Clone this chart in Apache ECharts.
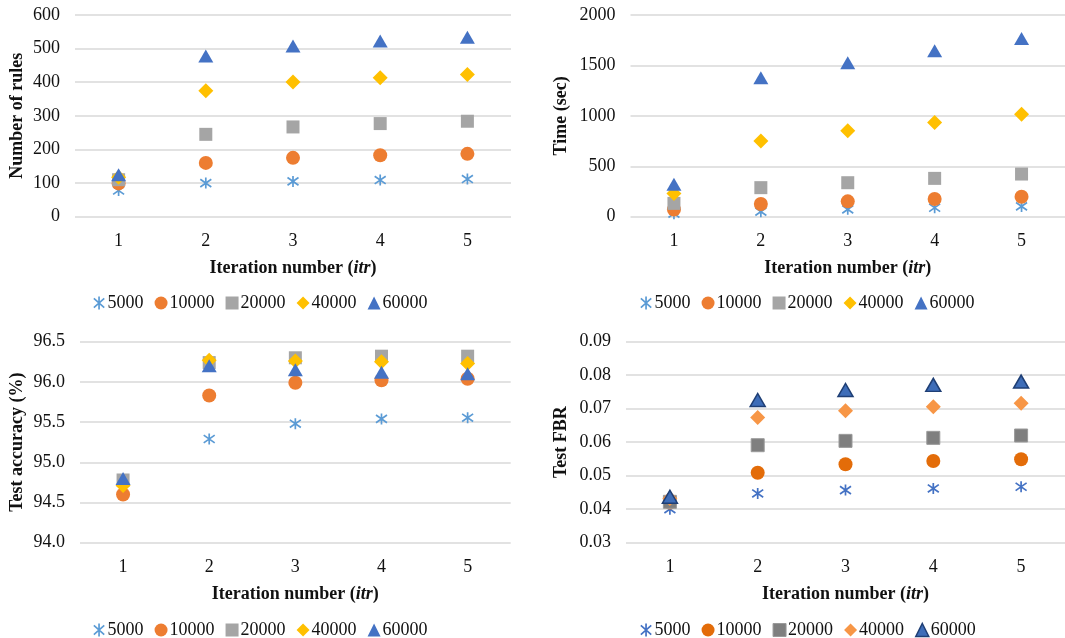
<!DOCTYPE html>
<html><head><meta charset="utf-8">
<script src="https://cdn.jsdelivr.net/npm/echarts@6/dist/echarts.min.js"></script>
<style>html,body{margin:0;padding:0;background:#fff}#c{width:1065px;height:638px}</style>
</head><body><div id="c"></div>
<script>
const categories = ['1','2','3','4','5'];
const seriesNames = ['5000','10000','20000','40000','60000'];

// Panel A: Number of rules
const rules5000  = [78, 100, 105, 109, 112];
const rules10000 = [99, 160, 175, 183, 187];
const rules20000 = [110, 245, 267, 277, 284];
const rules40000 = [117, 375, 401, 413, 423];
const rules60000 = [125, 478, 508, 523, 534];

// Panel B: Time (sec)
const time5000  = [30, 50, 73, 89, 102];
const time10000 = [72, 126, 152, 175, 198];
const time20000 = [132, 288, 337, 380, 423];
const time40000 = [231, 750, 853, 935, 1015];
const time60000 = [321, 1378, 1527, 1646, 1768];

// Panel C: Test accuracy (%)
const acc5000  = [94.66, 95.29, 95.48, 95.54, 95.555];
const acc10000 = [94.60, 95.83, 95.99, 96.02, 96.04];
const acc20000 = [94.78, 96.24, 96.30, 96.32, 96.32];
const acc40000 = [94.71, 96.27, 96.26, 96.25, 96.23];
const acc60000 = [94.80, 96.20, 96.15, 96.12, 96.10];

// Panel D: Test FBR
const fbr5000  = [0.0400, 0.0447, 0.0457, 0.0462, 0.0467];
const fbr10000 = [0.0420, 0.0509, 0.0534, 0.0544, 0.0549];
const fbr20000 = [0.0422, 0.0591, 0.0604, 0.0613, 0.0620];
const fbr40000 = [0.0432, 0.0674, 0.0694, 0.0706, 0.0716];
const fbr60000 = [0.0437, 0.0726, 0.0756, 0.0771, 0.0781];

const FONT = 'Liberation Serif';
const STAR = 'path://M1 1.5 L9 8.5 M9 1.5 L1 8.5 M5 0 L5 10';
const symbols = [STAR, 'circle', 'rect', 'diamond', 'triangle'];
const sizes = [11, 14, 13, 15, [15, 13]];

const palA = [
  {c:'#5B9BD5', b:'#5B9BD5'},
  {c:'#ED7D31', b:'#ED7D31'},
  {c:'#A5A5A5', b:'#A5A5A5'},
  {c:'#FFC000', b:'#FFC000'},
  {c:'#4472C4', b:'#4472C4'}
];
const palD = [
  {c:'#4472C4', b:'#4472C4'},
  {c:'#E36C09', b:'#E36C09'},
  {c:'#7F7F7F', b:'#9A9A9A'},
  {c:'#F79646', b:'#F79646'},
  {c:'#3E6DB8', b:'#1F3F75'}
];

const panels = [
  {data:[rules5000,rules10000,rules20000,rules40000,rules60000], pal:palA, min:0, max:600, interval:100, fmt:v=>String(v), title:'Number of rules', gap:49,
   grid:{left:75, top:15, width:436, height:201.7}, legend:{left:88, top:289}},
  {data:[time5000,time10000,time20000,time40000,time60000], pal:palA, min:0, max:2000, interval:500, fmt:v=>String(v), title:'Time (sec)', gap:60,
   grid:{left:630.5, top:15, width:439, height:201.7}, legend:{left:635, top:289}},
  {data:[acc5000,acc10000,acc20000,acc40000,acc60000], pal:palA, min:94, max:96.5, interval:0.5, fmt:v=>Number(v).toFixed(1), title:'Test accuracy (%)', gap:54,
   grid:{left:80, top:341.7, width:430.7, height:201}, legend:{left:88, top:616}},
  {data:[fbr5000,fbr10000,fbr20000,fbr40000,fbr60000], pal:palD, min:0.03, max:0.09, interval:0.01, fmt:v=>Number(v).toFixed(2), title:'Test FBR', gap:56,
   grid:{left:626, top:341.7, width:443, height:201}, legend:{left:635, top:616}}
];

const option = {
  animation:false,
  backgroundColor:'#fff',
  grid:[], xAxis:[], yAxis:[], series:[], legend:[]
};

panels.forEach((p, k) => {
  option.grid.push(Object.assign({containLabel:false}, p.grid));
  option.xAxis.push({
    type:'category', gridIndex:k, data:categories, boundaryGap:true,
    axisLine:{show:false}, axisTick:{show:false},
    axisLabel:{fontFamily:FONT, fontSize:18, color:'#111', margin:16},
    name:'{b|Iteration number (}{i|itr}{b|)}', nameLocation:'middle', nameGap:43,
    nameTextStyle:{fontFamily:FONT, fontSize:18, fontWeight:'bold', color:'#111',
      rich:{b:{fontFamily:FONT, fontSize:18, fontWeight:'bold', color:'#111'},
            i:{fontFamily:FONT, fontSize:18, fontWeight:'bold', fontStyle:'italic', color:'#111'}}}
  });
  option.yAxis.push({
    type:'value', gridIndex:k, min:p.min, max:p.max, interval:p.interval,
    axisLine:{show:false}, axisTick:{show:false},
    splitLine:{show:true, lineStyle:{color:'#D9D9D9', width:1.5}},
    axisLabel:{fontFamily:FONT, fontSize:18, color:'#111', margin:15, formatter:p.fmt},
    name:p.title, nameLocation:'middle', nameGap:p.gap, nameRotate:90,
    nameTextStyle:{fontFamily:FONT, fontSize:18, fontWeight:'bold', color:'#111'}
  });
  const legendData = [];
  seriesNames.forEach((sn, j) => {
    const nm = 'p' + k + '_' + sn;
    const isStar = j === 0;
    const st = isStar
      ? {color:'rgba(0,0,0,0)', borderColor:p.pal[j].c, borderWidth:1.7, opacity:1}
      : {color:p.pal[j].c, borderColor:p.pal[j].b, borderWidth:(k===3 && j===4) ? 1.5 : (k===3 && j===2 ? 1 : 0), opacity:1};
    option.series.push({
      type:'scatter', name:nm, xAxisIndex:k, yAxisIndex:k,
      data:p.data[j], symbol:symbols[j], symbolSize:sizes[j],
      itemStyle:st, emphasis:{disabled:true}
    });
    legendData.push({name:nm, icon:symbols[j], itemStyle:st});
  });
  option.legend.push({
    left:p.legend.left, top:p.legend.top, orient:'horizontal',
    itemWidth:13, itemHeight:13, itemGap:11, selectedMode:false,
    data:legendData,
    formatter:n => n.split('_')[1],
    textStyle:{fontFamily:FONT, fontSize:18, color:'#111', padding:[0,0,0,-3]}
  });
});

const chart = echarts.init(document.getElementById('c'), null, {renderer:'canvas'});
chart.setOption(option);
</script></body></html>
